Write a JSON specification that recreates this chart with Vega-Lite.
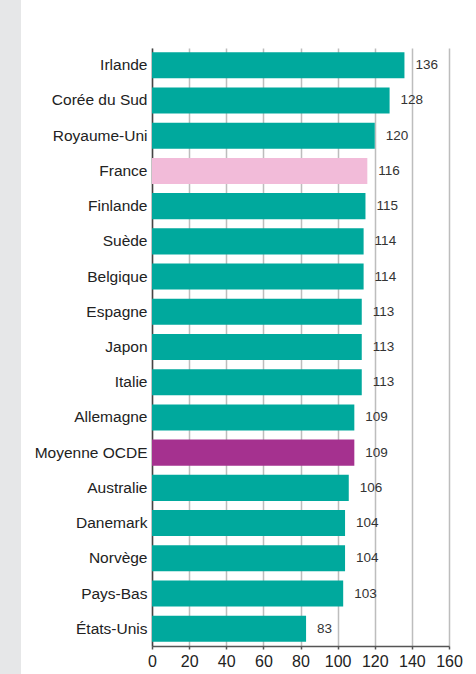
{
  "$schema": "https://vega.github.io/schema/vega-lite/v6.json",
  "autosize": {"type": "none"},
  "width": 297,
  "height": 598,
  "padding": {"left": 152, "top": 48, "right": 27, "bottom": 28},
  "background": "#e6e7e8",
  "config": {
    "view": {"fill": "white", "stroke": "white", "strokeWidth": 262},
    "font": "Liberation Sans"
  },
  "data": {
    "values": [
      {"pays": "Irlande", "valeur": 136, "groupe": "pays"},
      {"pays": "Corée du Sud", "valeur": 128, "groupe": "pays"},
      {"pays": "Royaume-Uni", "valeur": 120, "groupe": "pays"},
      {"pays": "France", "valeur": 116, "groupe": "France"},
      {"pays": "Finlande", "valeur": 115, "groupe": "pays"},
      {"pays": "Suède", "valeur": 114, "groupe": "pays"},
      {"pays": "Belgique", "valeur": 114, "groupe": "pays"},
      {"pays": "Espagne", "valeur": 113, "groupe": "pays"},
      {"pays": "Japon", "valeur": 113, "groupe": "pays"},
      {"pays": "Italie", "valeur": 113, "groupe": "pays"},
      {"pays": "Allemagne", "valeur": 109, "groupe": "pays"},
      {"pays": "Moyenne OCDE", "valeur": 109, "groupe": "OCDE"},
      {"pays": "Australie", "valeur": 106, "groupe": "pays"},
      {"pays": "Danemark", "valeur": 104, "groupe": "pays"},
      {"pays": "Norvège", "valeur": 104, "groupe": "pays"},
      {"pays": "Pays-Bas", "valeur": 103, "groupe": "pays"},
      {"pays": "États-Unis", "valeur": 83, "groupe": "pays"}
    ]
  },
  "encoding": {
    "y": {
      "field": "pays", "type": "nominal", "sort": null, "title": null,
      "scale": {"paddingInner": 0.26, "paddingOuter": 0.12},
      "axis": {
        "ticks": false, "labelFontSize": 15.5, "labelColor": "#222222",
        "labelPadding": 5, "domainColor": "#444444", "domainWidth": 1.5,
        "labelFont": "Liberation Sans"
      }
    },
    "x": {
      "field": "valeur", "type": "quantitative", "title": null,
      "scale": {"domain": [0, 160], "nice": false},
      "axis": {
        "values": [0, 20, 40, 60, 80, 100, 120, 140, 160],
        "grid": true, "gridColor": "#bdbdbd", "gridWidth": 1.5,
        "domainColor": "#555555", "domainWidth": 1.5,
        "tickColor": "#555555", "tickSize": 3, "tickWidth": 1.5,
        "labelFontSize": 16, "labelColor": "#222222", "labelPadding": 4,
        "labelFont": "Liberation Sans", "labelFlush": false
      }
    }
  },
  "layer": [
    {
      "mark": {"type": "bar"},
      "encoding": {
        "color": {
          "field": "groupe", "type": "nominal", "legend": null,
          "scale": {"domain": ["pays", "France", "OCDE"], "range": ["#00a99d", "#f2bbd9", "#a5318f"]}
        }
      }
    },
    {
      "mark": {"type": "text", "align": "left", "dx": 11, "fontSize": 13.5, "color": "#333333", "font": "Liberation Sans"},
      "encoding": {"text": {"field": "valeur", "type": "quantitative"}}
    }
  ]
}
